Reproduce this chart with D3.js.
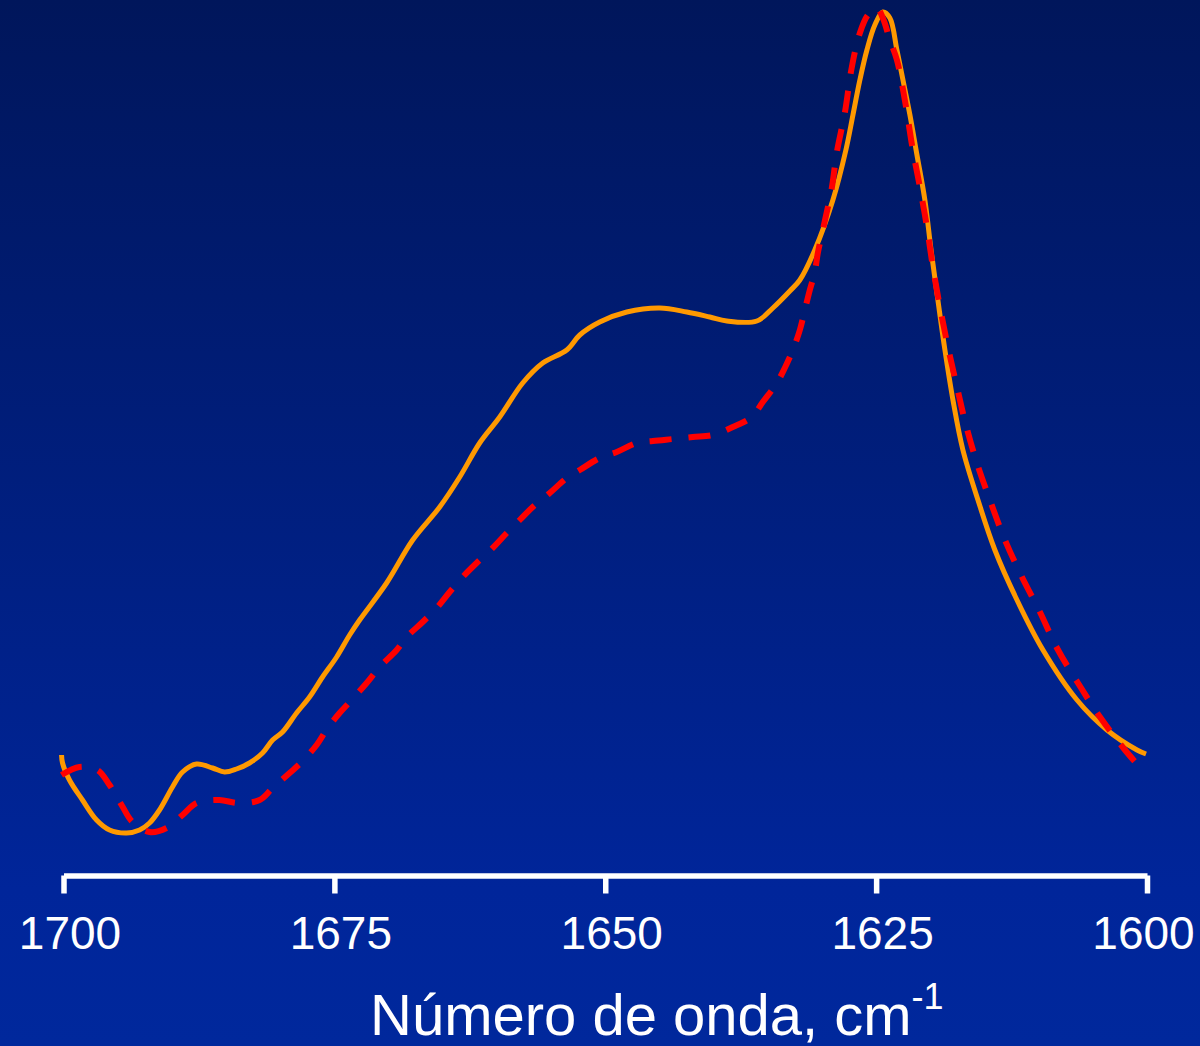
<!DOCTYPE html>
<html>
<head>
<meta charset="utf-8">
<script src="https://cdn.jsdelivr.net/npm/d3@7/dist/d3.min.js"></script>
<style>
  html, body { margin: 0; padding: 0; background: #001a70; }
  svg { display: block; }
</style>
</head>
<body>
<script>
// Wavenumber (cm-1) and absorbance (arbitrary units)
const orangeWavenumber = [1700.18,1700.09,1699.45,1698.25,1696.95,1695.75,1694.18,1692.98,1692.06,1691.14,1689.94,1689.01,1687.72,1686.24,1685.13,1684.03,1682.83,1681.63,1680.70,1679.78,1678.49,1677.29,1676.09,1674.79,1673.59,1672.67,1670.18,1667.77,1665.28,1663.43,1661.59,1659.74,1657.62,1655.77,1653.55,1652.35,1650.51,1648.01,1644.97,1642.47,1640.35,1638.78,1636.01,1634.53,1632.96,1632.04,1630.66,1628.99,1627.79,1627.14,1626.50,1625.85,1625.12,1624.38,1623.73,1623.08,1622.43,1621.88,1621.23,1620.50,1619.93,1619.30,1618.65,1617.91,1616.99,1615.60,1614.04,1612.00,1609.60,1606.46,1603.69,1600.92,1600.09];
const orangeAbsorbance = [0.119,0.111,0.094,0.074,0.054,0.044,0.041,0.044,0.051,0.064,0.087,0.102,0.110,0.106,0.102,0.105,0.111,0.121,0.134,0.142,0.161,0.177,0.197,0.217,0.239,0.254,0.291,0.334,0.367,0.397,0.431,0.457,0.491,0.511,0.524,0.539,0.552,0.562,0.566,0.562,0.557,0.553,0.553,0.566,0.583,0.594,0.624,0.674,0.724,0.759,0.794,0.824,0.849,0.862,0.856,0.824,0.789,0.759,0.719,0.674,0.624,0.574,0.524,0.474,0.424,0.374,0.324,0.274,0.224,0.174,0.144,0.124,0.120];

const redWavenumber = [1700.18,1698.52,1696.86,1695.75,1694.64,1693.63,1692.06,1690.49,1689.01,1687.72,1685.60,1683.93,1681.90,1680.70,1679.13,1678.02,1676.64,1675.62,1674.52,1673.59,1672.02,1670.82,1669.25,1668.33,1666.85,1665.56,1664.36,1663.16,1661.87,1660.39,1659.09,1657.89,1656.69,1655.12,1653.55,1652.35,1650.51,1648.94,1647.09,1645.61,1643.77,1641.92,1640.07,1638.23,1636.47,1635.46,1634.16,1633.43,1632.69,1632.04,1631.58,1631.12,1630.66,1630.38,1629.92,1629.55,1629.09,1628.62,1627.89,1627.24,1626.50,1625.76,1624.93,1624.38,1623.73,1623.08,1622.35,1621.61,1620.96,1620.31,1619.76,1619.11,1618.37,1617.54,1616.71,1615.70,1614.50,1613.11,1611.54,1609.88,1608.31,1606.37,1604.34,1602.03,1600.18];
const redAbsorbance = [0.099,0.107,0.104,0.089,0.069,0.052,0.042,0.046,0.059,0.071,0.074,0.071,0.074,0.086,0.101,0.112,0.129,0.146,0.161,0.172,0.191,0.207,0.224,0.237,0.252,0.266,0.282,0.297,0.311,0.326,0.341,0.354,0.367,0.381,0.396,0.404,0.416,0.422,0.431,0.433,0.435,0.437,0.439,0.447,0.457,0.472,0.491,0.506,0.524,0.544,0.564,0.584,0.602,0.621,0.644,0.662,0.686,0.722,0.761,0.807,0.841,0.859,0.866,0.856,0.834,0.814,0.774,0.724,0.687,0.647,0.607,0.567,0.527,0.487,0.449,0.411,0.374,0.334,0.297,0.262,0.226,0.191,0.157,0.124,0.101];

const tickValues = [1700, 1675, 1650, 1625, 1600];
const tickLabels = ["1700", "1675", "1650", "1625", "1600"];
const axisTitle = "Número de onda, cm";
const axisTitleSup = "-1";

const W = 1200, H = 1046;
const svg = d3.select("body").append("svg").attr("width", W).attr("height", H);

const defs = svg.append("defs");
const grad = defs.append("linearGradient").attr("id", "bg").attr("x1", 0).attr("y1", 0).attr("x2", 0).attr("y2", 1);
grad.append("stop").attr("offset", "0%").attr("stop-color", "#00165b");
grad.append("stop").attr("offset", "85%").attr("stop-color", "#00259a");
grad.append("stop").attr("offset", "100%").attr("stop-color", "#00289c");
svg.append("rect").attr("width", W).attr("height", H).attr("fill", "url(#bg)");

const x = d3.scaleLinear().domain([1700, 1600]).range([63.5, 1147]);
const y = d3.scaleLinear().domain([0, 1]).range([874, -126]);

const orange = orangeWavenumber.map((w, i) => ({ w, a: orangeAbsorbance[i] }));
const red = redWavenumber.map((w, i) => ({ w, a: redAbsorbance[i] }));

const line = d3.line().x(d => x(d.w)).y(d => y(d.a)).curve(d3.curveCatmullRom.alpha(0.5));

svg.append("path").datum(orange).attr("d", line)
  .attr("fill", "none").attr("stroke", "#ff9900").attr("stroke-width", 5)
  .attr("stroke-linejoin", "round");

svg.append("path").datum(red).attr("d", line)
  .attr("fill", "none").attr("stroke", "#ff0000").attr("stroke-width", 6)
  .attr("stroke-dasharray", "22,17");

// Axis
const axis = d3.axisBottom(x).tickValues(tickValues)
  .tickFormat((d, i) => tickLabels[i]).tickSizeInner(18).tickSizeOuter(0).tickPadding(20);
const gAxis = svg.append("g").attr("transform", "translate(0,875.5)").call(axis);
gAxis.select(".domain").attr("stroke", "#ffffff").attr("stroke-width", 5.5);
gAxis.selectAll(".tick line").attr("stroke", "#ffffff").attr("stroke-width", 5.5);
gAxis.selectAll(".tick text").attr("fill", "#ffffff")
  .attr("font-family", "'Liberation Sans', Arial, sans-serif").attr("font-size", 46)
  .attr("dy", null).attr("y", 73)
  .attr("x", (d, i) => i === tickValues.length - 1 ? -4 : 6);

const title = svg.append("text").attr("x", 370).attr("y", 1035)
  .attr("fill", "#ffffff").attr("font-family", "'Liberation Sans', Arial, sans-serif")
  .attr("font-size", 58);
title.append("tspan").text(axisTitle);
title.append("tspan").attr("font-size", 36).attr("dy", -26).text(axisTitleSup);
</script>
</body>
</html>
